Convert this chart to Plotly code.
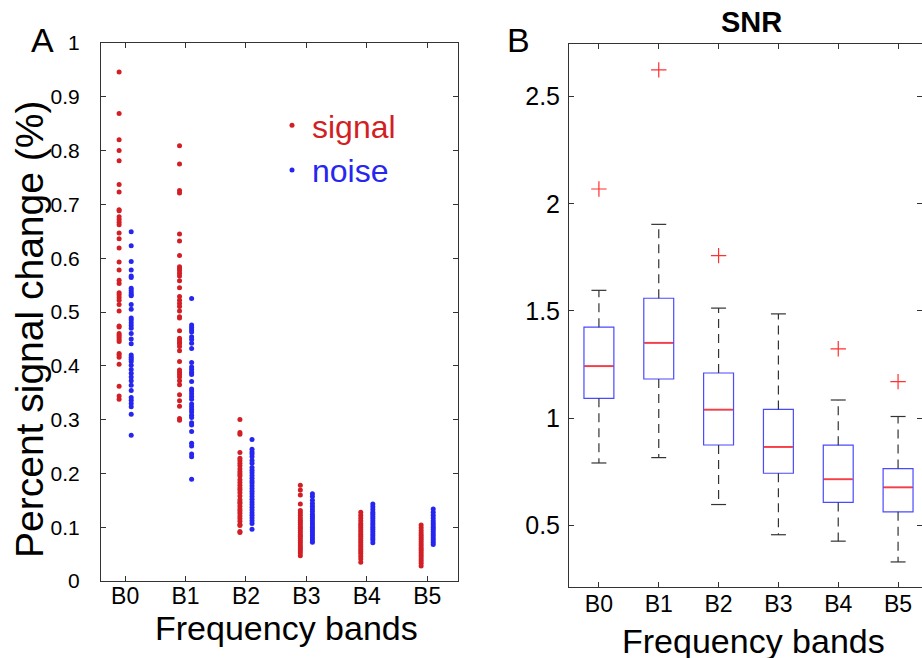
import plotly.graph_objects as go

# ---------------- data ----------------
bands = ["B0", "B1", "B2", "B3", "B4", "B5"]
band_pos = [1, 2, 3, 4, 5, 6]

signal_B0 = [0.946, 0.869, 0.820, 0.800, 0.781, 0.737, 0.723, 0.690, 0.688, 0.677,
             0.672, 0.667, 0.662, 0.647, 0.636, 0.619, 0.593, 0.578, 0.559, 0.553,
             0.536, 0.532, 0.527, 0.522, 0.514, 0.502, 0.474, 0.472, 0.460, 0.457,
             0.453, 0.449, 0.445, 0.423, 0.420, 0.416, 0.403, 0.362, 0.344, 0.338]
noise_B0 = [0.649, 0.623, 0.594, 0.578, 0.567, 0.564, 0.544, 0.540, 0.536, 0.532,
            0.530, 0.514, 0.505, 0.489, 0.485, 0.480, 0.475, 0.470, 0.460, 0.450,
            0.441, 0.420, 0.416, 0.412, 0.408, 0.401, 0.393, 0.386, 0.379, 0.372,
            0.364, 0.354, 0.341, 0.336, 0.330, 0.324, 0.310, 0.271]
signal_B1 = [0.809, 0.775, 0.726, 0.721, 0.645, 0.632, 0.605, 0.584, 0.581, 0.577,
             0.572, 0.567, 0.558, 0.545, 0.529, 0.522, 0.516, 0.510, 0.502, 0.491,
             0.489, 0.465, 0.451, 0.448, 0.444, 0.441, 0.436, 0.428, 0.408, 0.392,
             0.388, 0.384, 0.379, 0.372, 0.365, 0.346, 0.335, 0.325, 0.302, 0.299]
noise_B1 = [0.525, 0.476, 0.471, 0.467, 0.463, 0.454, 0.449, 0.442, 0.432, 0.406,
            0.398, 0.393, 0.388, 0.384, 0.371, 0.357, 0.353, 0.348, 0.343, 0.338,
            0.329, 0.324, 0.319, 0.314, 0.308, 0.304, 0.294, 0.290, 0.278, 0.256,
            0.251, 0.236, 0.231, 0.189]
signal_B2 = [0.300, 0.276, 0.273, 0.239, 0.228, 0.224, 0.219, 0.214, 0.208, 0.203,
             0.199, 0.195, 0.188, 0.183, 0.178, 0.173, 0.169, 0.164, 0.158, 0.151,
             0.147, 0.144, 0.139, 0.134, 0.130, 0.126, 0.121, 0.116, 0.111, 0.105,
             0.103, 0.092, 0.090]
noise_B2 = [0.263, 0.245, 0.240, 0.236, 0.231, 0.224, 0.219, 0.211, 0.206, 0.201,
            0.196, 0.191, 0.186, 0.182, 0.177, 0.172, 0.167, 0.162, 0.157, 0.152,
            0.147, 0.142, 0.137, 0.132, 0.127, 0.122, 0.117, 0.112, 0.107, 0.096]
signal_B3 = [0.178, 0.169, 0.160, 0.143, 0.131, 0.127, 0.122, 0.117, 0.113, 0.109,
             0.105, 0.101, 0.098, 0.094, 0.090, 0.086, 0.083, 0.079, 0.075, 0.071,
             0.067, 0.063, 0.060, 0.056, 0.052, 0.047]
noise_B3 = [0.162, 0.157, 0.150, 0.144, 0.139, 0.134, 0.129, 0.124, 0.120, 0.116,
            0.112, 0.108, 0.104, 0.100, 0.096, 0.092, 0.088, 0.084, 0.080, 0.076,
            0.072]
signal_B4 = [0.128, 0.122, 0.117, 0.112, 0.107, 0.103, 0.099, 0.095, 0.091, 0.087,
             0.083, 0.079, 0.075, 0.071, 0.067, 0.063, 0.059, 0.055, 0.051, 0.046,
             0.041, 0.035]
noise_B4 = [0.143, 0.138, 0.133, 0.128, 0.124, 0.120, 0.116, 0.112, 0.108, 0.104,
            0.100, 0.096, 0.092, 0.088, 0.084, 0.080, 0.076, 0.071]
signal_B5 = [0.104, 0.099, 0.094, 0.089, 0.085, 0.081, 0.077, 0.073, 0.069, 0.065,
             0.061, 0.057, 0.053, 0.049, 0.045, 0.041, 0.037, 0.033, 0.028]
noise_B5 = [0.134, 0.128, 0.122, 0.117, 0.112, 0.108, 0.104, 0.100, 0.096, 0.092,
            0.088, 0.084, 0.080, 0.076, 0.072, 0.068]

signal = [signal_B0, signal_B1, signal_B2, signal_B3, signal_B4, signal_B5]
noise = [noise_B0, noise_B1, noise_B2, noise_B3, noise_B4, noise_B5]

left_yticks = [0, 0.1, 0.2, 0.3, 0.4, 0.5, 0.6, 0.7, 0.8, 0.9, 1]
left_yticktext = ["0", "0.1", "0.2", "0.3", "0.4", "0.5", "0.6", "0.7", "0.8", "0.9", "1"]

snr_q1 = [1.092, 1.182, 0.874, 0.742, 0.606, 0.562]
snr_median = [1.242, 1.351, 1.039, 0.865, 0.714, 0.676]
snr_q3 = [1.424, 1.559, 1.210, 1.040, 0.873, 0.764]
snr_lower = [0.790, 0.815, 0.596, 0.455, 0.425, 0.328]
snr_upper = [1.596, 1.904, 1.513, 1.486, 1.084, 1.007]
snr_outlier_band = [0, 1, 2, 4, 5]
snr_outlier_value = [2.069, 2.625, 1.758, 1.323, 1.170]

right_yticks = [0.5, 1, 1.5, 2, 2.5]
right_yticktext = ["0.5", "1", "1.5", "2", "2.5"]

# ---------------- style ----------------
FONT = "Liberation Sans, Arial, Helvetica, sans-serif"
RED = "#d21f26"
BLUE = "#2626f0"
AX = "#333333"
OFFSET = 0.1
BOX_W = 0.5
CAP_W = 0.25

fig = go.Figure()

# ---- panel A: dot columns ----
sx, sy, nx, ny = [], [], [], []
for i, p in enumerate(band_pos):
    sx += [p - OFFSET] * len(signal[i])
    sy += signal[i]
    nx += [p + OFFSET] * len(noise[i])
    ny += noise[i]

fig.add_trace(go.Scatter(x=sx, y=sy, mode="markers", name="<span style='color:%s'>signal</span>" % RED,
                         marker=dict(color=RED, size=5), xaxis="x", yaxis="y"))
fig.add_trace(go.Scatter(x=nx, y=ny, mode="markers", name="<span style='color:%s'>noise</span>" % BLUE,
                         marker=dict(color=BLUE, size=5), xaxis="x", yaxis="y"))

# ---- panel B: box plots ----
fig.add_trace(go.Box(x=band_pos, q1=snr_q1, median=snr_median, q3=snr_q3,
                     lowerfence=snr_q1, upperfence=snr_q3, width=BOX_W,
                     line=dict(color="#4a4aff", width=1.2), fillcolor="rgba(0,0,0,0)",
                     boxpoints=False, showlegend=False, xaxis="x2", yaxis="y2",
                     hoverinfo="skip"))

wx, wy, cx, cy, mx, my = [], [], [], [], [], []
for i, p in enumerate(band_pos):
    wx += [p, p, None, p, p, None]
    wy += [snr_q3[i], snr_upper[i], None, snr_q1[i], snr_lower[i], None]
    cx += [p - CAP_W / 2, p + CAP_W / 2, None, p - CAP_W / 2, p + CAP_W / 2, None]
    cy += [snr_upper[i], snr_upper[i], None, snr_lower[i], snr_lower[i], None]
    mx += [p - BOX_W / 2 + 0.01, p + BOX_W / 2 - 0.01, None]
    my += [snr_median[i], snr_median[i], None]

fig.add_trace(go.Scatter(x=wx, y=wy, mode="lines", line=dict(color=AX, width=1.2, dash="9px,6px"),
                         showlegend=False, xaxis="x2", yaxis="y2", hoverinfo="skip"))
fig.add_trace(go.Scatter(x=cx, y=cy, mode="lines", line=dict(color=AX, width=1.2),
                         showlegend=False, xaxis="x2", yaxis="y2", hoverinfo="skip"))
fig.add_trace(go.Scatter(x=mx, y=my, mode="lines", line=dict(color="#ff3b3b", width=1.8),
                         showlegend=False, xaxis="x2", yaxis="y2", hoverinfo="skip"))
fig.add_trace(go.Scatter(x=[band_pos[b] for b in snr_outlier_band], y=snr_outlier_value,
                         mode="markers", showlegend=False, xaxis="x2", yaxis="y2",
                         marker=dict(symbol="cross-thin", size=11, color="#ff3030",
                                     line=dict(color="#ff3030", width=1.2))))

W, H = 922, 658
axis_common = dict(showline=True, linecolor=AX, linewidth=1, mirror="ticks", ticks="inside",
                   ticklen=5, tickcolor=AX, showgrid=False, zeroline=False, automargin=False)


def px(x):
    return x / W


def py(y):
    return 1 - y / H


fig.update_layout(
    width=W, height=H, margin=dict(l=0, r=0, t=0, b=0, autoexpand=False),
    paper_bgcolor="white", plot_bgcolor="white",
    font=dict(family=FONT, color="black"),
    xaxis=dict(domain=[px(101), px(458)], range=[0.6, 6.51], tickvals=band_pos, ticktext=bands,
               tickfont=dict(size=23), ticklabelstandoff=-6, anchor="y", **axis_common),
    yaxis=dict(domain=[py(581), py(43)], range=[0, 1], tickvals=left_yticks,
               ticktext=left_yticktext, tickfont=dict(size=21), ticklabelstandoff=16,
               anchor="x", **axis_common),
    xaxis2=dict(domain=[px(569), 1.0], range=[0.5, 6.4], tickvals=band_pos, ticktext=bands,
                tickfont=dict(size=23), ticklabelstandoff=-4, anchor="y2", **axis_common),
    yaxis2=dict(domain=[py(587), py(44)], range=[0.211, 2.746], tickvals=right_yticks,
                ticktext=right_yticktext, tickfont=dict(size=25), ticklabelstandoff=3,
                anchor="x2", **axis_common),
    legend=dict(x=px(272), y=py(98), xanchor="left", yanchor="top",
                bgcolor="rgba(0,0,0,0)", font=dict(size=32), itemwidth=30),
    annotations=[
        dict(text="Percent signal change (%)", x=px(29), y=py(330), xref="paper", yref="paper",
             showarrow=False, textangle=-90, font=dict(size=39), xanchor="center", yanchor="middle"),
        dict(text="Frequency bands", x=px(286), y=py(628), xref="paper", yref="paper",
             showarrow=False, font=dict(size=34), xanchor="center", yanchor="middle"),
        dict(text="Frequency bands", x=px(753), y=py(641), xref="paper", yref="paper",
             showarrow=False, font=dict(size=34), xanchor="center", yanchor="middle"),
        dict(text="A", x=px(42), y=py(40), xref="paper", yref="paper", showarrow=False,
             font=dict(size=34), xanchor="center", yanchor="middle"),
        dict(text="B", x=px(518), y=py(40), xref="paper", yref="paper", showarrow=False,
             font=dict(size=34), xanchor="center", yanchor="middle"),
        dict(text="<b>SNR</b>", x=px(751), y=py(22), xref="paper", yref="paper", showarrow=False,
             font=dict(size=29), xanchor="center", yanchor="middle"),
    ],
)

fig.write_html("out.html", config={"displayModeBar": False},
               post_script="document.body.style.margin='0';document.body.style.padding='0';")
